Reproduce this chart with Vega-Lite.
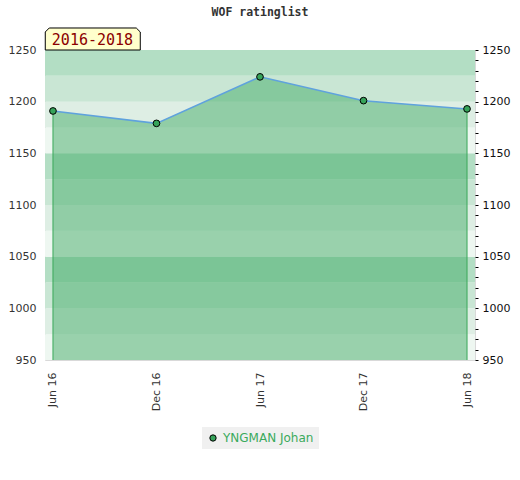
{
  "$schema": "https://vega.github.io/schema/vega-lite/v6.json",
  "width": 430,
  "height": 310,
  "autosize": "none",
  "padding": {"left": 45, "top": 50, "right": 45, "bottom": 120},
  "background": "white",
  "title": {
    "text": "WOF ratinglist",
    "font": "DejaVu Sans Mono",
    "fontSize": 11.5,
    "fontWeight": "bold",
    "color": "#333333",
    "anchor": "middle",
    "offset": 7
  },
  "datasets": {
    "ratings": [
      {"period": "Jun 16", "rating": 1191, "player": "YNGMAN Johan"},
      {"period": "Dec 16", "rating": 1179, "player": "YNGMAN Johan"},
      {"period": "Jun 17", "rating": 1224, "player": "YNGMAN Johan"},
      {"period": "Dec 17", "rating": 1201, "player": "YNGMAN Johan"},
      {"period": "Jun 18", "rating": 1193, "player": "YNGMAN Johan"}
    ],
    "bands": [
      {"lo": 950, "hi": 975, "shade": 0},
      {"lo": 975, "hi": 1000, "shade": 1},
      {"lo": 1000, "hi": 1025, "shade": 2},
      {"lo": 1025, "hi": 1050, "shade": 3},
      {"lo": 1050, "hi": 1075, "shade": 0},
      {"lo": 1075, "hi": 1100, "shade": 1},
      {"lo": 1100, "hi": 1125, "shade": 2},
      {"lo": 1125, "hi": 1150, "shade": 3},
      {"lo": 1150, "hi": 1175, "shade": 0},
      {"lo": 1175, "hi": 1200, "shade": 1},
      {"lo": 1200, "hi": 1225, "shade": 2},
      {"lo": 1225, "hi": 1250, "shade": 3}
    ],
    "range": [{"label": "2016-2018"}]
  },
  "layer": [
    {
      "data": {"name": "bands"},
      "mark": {"type": "rect"},
      "encoding": {
        "y": {"field": "lo", "type": "quantitative", "scale": {"domain": [950, 1250], "zero": false, "nice": false}, "axis": null},
        "y2": {"field": "hi"},
        "fill": {
          "field": "shade",
          "type": "ordinal",
          "scale": {"domain": [0, 1, 2, 3], "range": ["#eef7f1", "#deeee4", "#c9e6d4", "#b3dec4"]},
          "legend": null
        }
      }
    },
    {
      "data": {"name": "ratings"},
      "mark": {
        "type": "area",
        "color": "#43ac67",
        "fillOpacity": 0.5,
        "line": {"color": "#5fa2dd", "strokeWidth": 1.5}
      },
      "encoding": {
        "x": {
          "field": "period",
          "type": "ordinal",
          "sort": null,
          "scale": {"type": "point", "padding": 0.077},
          "axis": {
            "title": null,
            "labelAngle": -90,
            "labelPadding": 12,
            "labelFontSize": 11,
            "labelColor": "#333333",
            "ticks": false,
            "domain": false,
            "grid": false
          }
        },
        "y": {
          "field": "rating",
          "type": "quantitative",
          "axis": {
            "orient": "left",
            "title": null,
            "format": "d",
            "values": [950, 1000, 1050, 1100, 1150, 1200, 1250],
            "ticks": false,
            "domain": false,
            "grid": false,
            "labelPadding": 9,
            "labelFontSize": 11,
            "labelColor": "#333333"
          }
        },
        "y2": {"datum": 950}
      }
    },
    {
      "data": {"name": "ratings"},
      "transform": [{"filter": {"field": "period", "oneOf": ["Jun 16", "Jun 18"]}}],
      "mark": {"type": "rule", "color": "#3aa85a", "strokeWidth": 1},
      "encoding": {
        "x": {"field": "period", "type": "ordinal", "sort": null},
        "y": {"field": "rating", "type": "quantitative", "axis": null},
        "y2": {"datum": 950}
      }
    },
    {
      "data": {"name": "ratings"},
      "mark": {"type": "point", "filled": true, "stroke": "black", "strokeWidth": 1, "size": 45, "opacity": 1},
      "encoding": {
        "x": {"field": "period", "type": "ordinal", "sort": null},
        "y": {
          "field": "rating",
          "type": "quantitative",
          "axis": {
            "orient": "right",
            "title": null,
            "format": "d",
            "values": [950, 960, 970, 980, 990, 1000, 1010, 1020, 1030, 1040, 1050, 1060, 1070, 1080, 1090, 1100, 1110, 1120, 1130, 1140, 1150, 1160, 1170, 1180, 1190, 1200, 1210, 1220, 1230, 1240, 1250],
            "labelExpr": "datum.value % 50 === 0 ? datum.label : ''",
            "ticks": true,
            "tickSize": 3,
            "tickColor": "black",
            "domain": false,
            "grid": false,
            "labelPadding": 4,
            "labelFontSize": 11,
            "labelColor": "#111111"
          }
        },
        "color": {
          "field": "player",
          "type": "nominal",
          "scale": {"range": ["#36a35a"]},
          "legend": {
            "title": null,
            "orient": "bottom",
            "offset": 16,
            "fillColor": "#f0f0f0",
            "padding": 5,
            "labelColor": "#3aaa5c",
            "labelFontSize": 12,
            "symbolType": "circle",
            "symbolSize": 40,
            "symbolStrokeColor": "black",
            "symbolStrokeWidth": 1
          }
        }
      }
    },
    {
      "data": {"name": "range"},
      "mark": {
        "type": "point",
        "shape": "M-1,0.2316L-1,-0.148L-0.916,-0.2316L0.916,-0.2316L1,-0.148L1,0.2316Z",
        "size": 9025,
        "filled": true,
        "fill": "#ffffcc",
        "stroke": "black",
        "strokeWidth": 1,
        "opacity": 1,
        "xOffset": 39.8,
        "yOffset": -11
      },
      "encoding": {
        "x": {"datum": "Jun 16", "type": "ordinal"},
        "y": {"datum": 1250, "type": "quantitative", "axis": null}
      }
    },
    {
      "data": {"name": "range"},
      "mark": {
        "type": "text",
        "font": "DejaVu Sans Mono",
        "fontSize": 15,
        "color": "#8b0000",
        "align": "center",
        "baseline": "middle",
        "xOffset": 39.5,
        "yOffset": -10.5
      },
      "encoding": {
        "x": {"datum": "Jun 16", "type": "ordinal"},
        "y": {"datum": 1250, "type": "quantitative", "axis": null},
        "text": {"field": "label"}
      }
    }
  ],
  "resolve": {"axis": {"y": "independent"}},
  "config": {
    "font": "DejaVu Sans",
    "view": {"stroke": "#d9d9d9"},
    "legend": {"layout": {"bottom": {"anchor": "middle"}}}
  }
}
